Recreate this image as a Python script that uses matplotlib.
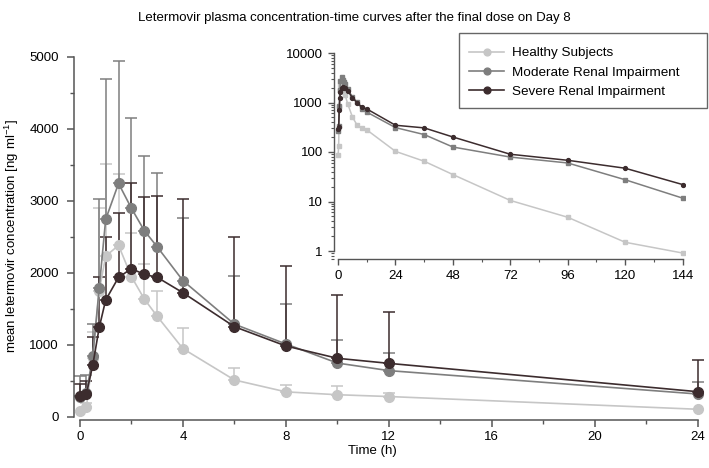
"""
Letermovir plasma concentration-time curves, main panel plus log inset
"""

from matplotlib import pyplot as plt
from matplotlib.patches import Rectangle
import numpy as np

plt.rcParams['font.family'] = ['Liberation Sans', 'DejaVu Sans']
plt.rcParams['mathtext.fontset'] = 'custom'
plt.rcParams['mathtext.rm'] = 'Liberation Sans'

# time points (h) of the main panel
t_main = [0, 0.25, 0.5, 0.75, 1, 1.5, 2, 2.5, 3, 4, 6, 8, 10, 12, 24]

healthy = [85, 130, 820, 1750, 2230, 2380, 1945, 1635, 1395, 945, 510, 345, 305, 280, 103]
moderate = [270, 330, 843, 1790, 2740, 3240, 2895, 2585, 2360, 1890, 1285, 1010, 745, 640, 315]
severe = [288, 316, 718, 1240, 1620, 1936, 2056, 1977, 1936, 1722, 1250, 982, 811, 741, 347]

# upper ends of the error bars (mean + SD), nan = not shown
healthy_upper = [np.nan, 190, 1180, 2895, 3505, 3370, 2556, 2116, 1746, 1227, 672, 440, 426, 333, np.nan]
moderate_upper = [565, 579, 1290, 3020, 4690, 4935, 4150, 3625, 3380, 2765, 1960, 1570, 1070, 889, 482]
severe_upper = [450, 490, 1110, 1944, 2500, 2826, 3243, 3056, 3065, 3020, 2500, 2090, 1690, 1450, 787]

# inset: later samples up to 144 h
t_late = [24, 36, 48, 72, 96, 120, 144]
healthy_late = [103, 65, 35, 10.5, 4.8, 1.5, 0.91]
moderate_late = [311, 225, 126, 79, 60, 27.5, 11.7]
severe_late = [347, 307, 201, 90, 68, 47, 22]

labels = ['Healthy Subjects', 'Moderate Renal Impairment', 'Severe Renal Impairment']
colors = ['#c6c6c6', '#7e7e7e', '#3c2c2e']
spine_col = '#555555'
W, H = 709, 468

fig = plt.figure(figsize=(7.09, 4.68), dpi=100)

# ---- main panel ----
ax = fig.add_axes([74 / W, 1 - 420 / H, (703 - 74) / W, (420 - 56) / H])
series = [(healthy, healthy_upper), (moderate, moderate_upper), (severe, severe_upper)]
for (mean, upper), c in zip(series, colors):
    mean = np.asarray(mean, float)
    upper = np.asarray(upper, float)
    t = np.asarray(t_main, float)
    ok = ~np.isnan(upper)
    ax.errorbar(t[ok], mean[ok], yerr=[np.zeros(ok.sum()), upper[ok] - mean[ok]],
                fmt='none', ecolor=c, elinewidth=1.1, capsize=4.5, capthick=1.1, zorder=2)
for (mean, upper), c, lab in zip(series, colors, labels):
    ax.plot(t_main, mean, color=c, lw=1.2, marker='o', ms=7, mec=c, mfc=c,
            zorder=3, clip_on=False, label=lab)

ax.set_xlim(-0.23, 24.2)
ax.set_ylim(-46, 5010)
ax.set_xticks([0, 4, 8, 12, 16, 20, 24])
ax.set_xticks(np.arange(2, 24, 4), minor=True)
ax.set_yticks([0, 1000, 2000, 3000, 4000, 5000])
ax.set_yticks(np.arange(500, 5000, 1000), minor=True)
for s in ['top', 'right']:
    ax.spines[s].set_visible(False)
ax.spines['left'].set_bounds(0, 5000)
ax.spines['bottom'].set_bounds(0, 24)
for s in ['left', 'bottom']:
    ax.spines[s].set_color(spine_col)
    ax.spines[s].set_linewidth(1.1)
ax.tick_params(which='major', length=5, width=1.1, color=spine_col, labelsize=9.5)
ax.tick_params(axis='y', pad=6)
ax.tick_params(axis='x', pad=3)
ax.tick_params(which='minor', length=3, width=1, color=spine_col)
ax.set_xlabel('Time (h)', fontsize=9.5)
ax.xaxis.set_label_coords((372 - 74) / 629, -(445 - 420) / 364)
ax.set_ylabel('mean letermovir concentration [ng ml$^{\\mathregular{-1}}$]', fontsize=9.5)
ax.yaxis.set_label_coords(-(74 - 21) / 629, (420 - 236) / 364)

fig.suptitle('Letermovir plasma concentration-time curves after the final dose on Day 8',
             x=0.5, y=0.975, fontsize=9.5)

# ---- log inset ----
axi = fig.add_axes([334 / W, 1 - 259 / H, (685 - 334) / W, (259 - 52) / H])
t_log = t_main[:-1] + t_late
inset_series = [healthy[:-1] + healthy_late, moderate[:-1] + moderate_late,
                severe[:-1] + severe_late]
markers = ['s', 's', 'o']
for vals, c, m in zip(inset_series, colors, markers):
    axi.plot(t_log, vals, color=c, lw=1.1, marker=m, ms=2.8, mec=c, mfc=c)
axi.set_yscale('log')
axi.set_ylim(10 ** (-8 / 49.5), 10 ** (4 + 1 / 49.5))
axi.set_xlim(-1.7, 145)
axi.set_xticks(np.arange(0, 145, 24))
axi.set_xticks(np.arange(12, 145, 24), minor=True)
axi.set_yticks([1, 10, 100, 1000, 10000])
axi.set_yticklabels(['1', '10', '100', '1000', '10000'])
for s in ['top', 'right']:
    axi.spines[s].set_visible(False)
axi.spines['left'].set_bounds(1, 10000)
axi.spines['bottom'].set_bounds(0, 144)
for s in ['left', 'bottom']:
    axi.spines[s].set_color(spine_col)
    axi.spines[s].set_linewidth(1.0)
axi.tick_params(which='major', length=4, width=1, color=spine_col, labelsize=9.5, pad=4)
axi.tick_params(which='minor', length=2, width=0.8, color=spine_col)
axi.patch.set_alpha(0)

# legend: frameless legend plus a separate box, the box has wide right padding
handles, labs = ax.get_legend_handles_labels()
leg = fig.legend(handles, labs, loc='upper left', bbox_to_anchor=(469 / W, 1 - 47 / H),
                 borderaxespad=0, borderpad=0, fontsize=9.7, frameon=False,
                 handlelength=2.6, labelspacing=0.5, handletextpad=0.6, markerscale=0.7)
fig.patches.append(Rectangle((459 / W, 1 - 108 / H), (707 - 459) / W, (108 - 33) / H,
                             transform=fig.transFigure, fill=False,
                             edgecolor='#666666', linewidth=1.0))

plt.savefig('out.png', dpi=100)
